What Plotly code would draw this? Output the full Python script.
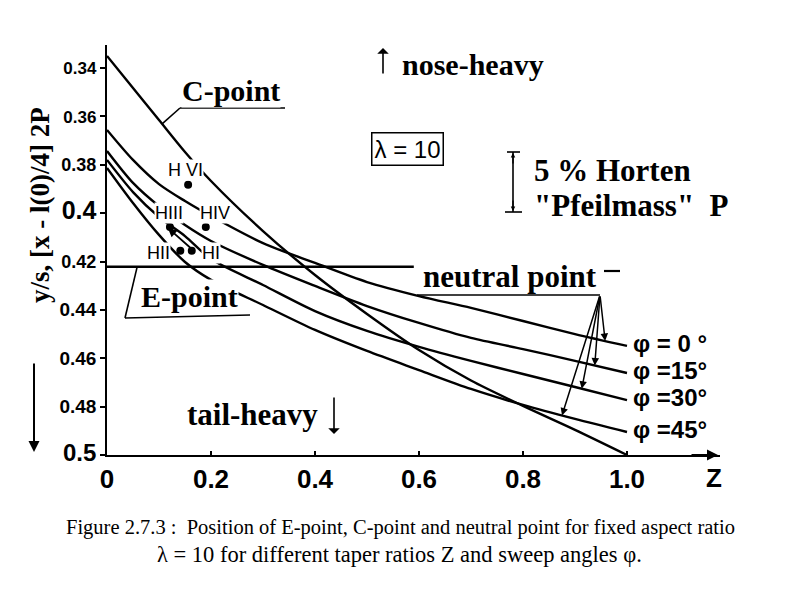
import numpy as np
import plotly.graph_objects as go

# ---------------- data ----------------
Z = [0, 0.05, 0.1, 0.15, 0.2, 0.3, 0.4, 0.5, 0.6, 0.7, 0.8, 0.9, 1.0]
c_point = [0.3350, 0.3483, 0.3615, 0.3747, 0.3867, 0.4074, 0.4256, 0.4417,
           0.4566, 0.4692, 0.4797, 0.4896, 0.5000]
np_phi0 = [0.3656, 0.3780, 0.3880, 0.3950, 0.4012, 0.4124, 0.4206, 0.4285,
           0.4343, 0.4392, 0.4446, 0.4500, 0.4549]
np_phi15 = [0.3743, 0.3875, 0.3971, 0.4049, 0.4115, 0.4214, 0.4301, 0.4384,
            0.4454, 0.4516, 0.4562, 0.4611, 0.4661]
np_phi30 = [0.3780, 0.3913, 0.4016, 0.4095, 0.4190, 0.4297, 0.4405, 0.4487,
            0.4553, 0.4611, 0.4665, 0.4719, 0.4773]
np_phi45 = [0.3813, 0.3958, 0.4090, 0.4202, 0.4276, 0.4380, 0.4483, 0.4570,
            0.4649, 0.4727, 0.4793, 0.4851, 0.4905]
e_z = [0.0, 0.59]
e_point = [0.4222, 0.4222]

horten_names = ["H VI", "HIII", "HIV", "HII", "HI"]
horten_z = [0.156, 0.121, 0.190, 0.141, 0.163]
horten_y = [0.3883, 0.4057, 0.4057, 0.4156, 0.4156]

phi_labels = ["φ = 0 °", "φ =15°", "φ =30°", "φ =45°"]
x_ticks = [0, 0.2, 0.4, 0.6, 0.8, 1.0]
x_ticktext = ["0", "0.2", "0.4", "0.6", "0.8", "1.0"]
y_ticks = [0.34, 0.36, 0.38, 0.40, 0.42, 0.44, 0.46, 0.48, 0.50]
y_ticktext = ["0.34", "0.36", "0.38", "0.4", "0.42", "0.44", "0.46", "0.48", "0.5"]
y_ticksize = [17, 17, 18, 25, 18, 19, 19, 19, 24]

# ---------------- layout helpers (pixel -> axis / paper) ----------------
L, R, T, B = 107, 720, 45, 455
W, H = 800, 593
PXU = 520.0                       # pixels per unit Z
YPX = 0.16 / 387.0                # y units per pixel


def zx(px):
    return (px - L) / PXU


def yy(py):
    return 0.34 + (py - 68) * YPX


def paper_x(px):
    return (px - L) / (R - L)


def paper_y(py):
    return (B - py) / (B - T)


SERIF = "Liberation Serif, Times New Roman, serif"
SANS = "Liberation Sans, Arial, sans-serif"

fig = go.Figure()
line_style = dict(color="black", width=2.4, shape="spline", smoothing=0.8)
for name, ys in [("C-point", c_point), ("φ=0°", np_phi0), ("φ=15°", np_phi15),
                 ("φ=30°", np_phi30), ("φ=45°", np_phi45)]:
    fig.add_trace(go.Scatter(x=Z, y=ys, mode="lines", name=name, line=line_style,
                             hoverinfo="skip"))
fig.add_trace(go.Scatter(x=e_z, y=e_point, mode="lines", name="E-point",
                         line=dict(color="black", width=2.4)))
fig.add_trace(go.Scatter(x=horten_z, y=horten_y, mode="markers", name="Horten",
                         marker=dict(color="black", size=8)))

ann = []
shapes = []


def text(px, py, s, size, family=SERIF, bold=True, xanchor="center", bg=None,
         ref="data", angle=0):
    d = dict(text=("<b>%s</b>" % s) if bold else s, showarrow=False,
             font=dict(family=family, size=size, color="black"),
             xanchor=xanchor, yanchor="middle", textangle=angle)
    if ref == "data":
        d.update(x=zx(px), y=yy(py), xref="x", yref="y")
    else:
        d.update(x=paper_x(px), y=paper_y(py), xref="paper", yref="paper")
    if bg:
        d.update(bgcolor=bg, borderpad=0)
    ann.append(d)


def seg(x0, y0, x1, y1, w=1.6):
    shapes.append(dict(type="line", xref="x", yref="y", x0=x0, y0=y0, x1=x1, y1=y1,
                       line=dict(color="black", width=w)))


def arrow(x, y, ax, ay, size=1.0, w=1.5, head=2):
    ann.append(dict(x=x, y=y, ax=ax, ay=ay, text="", showarrow=True, arrowhead=head,
                    arrowsize=size, arrowwidth=w, arrowcolor="black",
                    xref="x", yref="y", axref="x", ayref="y"))


def parrow(tip_px, tip_py, tail_px, tail_py, size=1.0, w=1.5, head=2):
    """arrow positioned in page pixels (may sit outside the plot area)"""
    ann.append(dict(x=paper_x(tip_px), y=paper_y(tip_py), xref="paper", yref="paper",
                    ax=tail_px - tip_px, ay=tail_py - tip_py, axref="pixel", ayref="pixel",
                    text="", showarrow=True, arrowhead=head, arrowsize=size,
                    arrowwidth=w, arrowcolor="black"))


# C-point label with underline and leader to the curve
text(231, 90, "C-point", 30, bg="white")
seg(zx(180), yy(108), zx(285), yy(108))
zc = 0.106
seg(zx(180), yy(108), zc, float(np.interp(zc, Z, c_point)))

# E-point label with bracket pointing to the E-point line
text(189, 296, "E-point", 30, bg="white")
seg(zx(250), yy(315), zx(125), yy(318))
seg(zx(125), yy(318), 0.058, e_point[0])

# Horten aircraft labels
label_px = [(185, 170), (169, 213), (215, 213), (158, 253), (211, 253)]
for (px, py), nm in zip(label_px, horten_names):
    text(px, py, nm, 18, family=SANS, bold=False, bg="white")
# arrow from H I towards H III
arrow(horten_z[1] - 0.004, horten_y[1] + 0.0004, horten_z[4] + 0.004, horten_y[4], size=1.0, w=1.8)

# lambda box
ann.append(dict(x=zx(407), y=yy(149), xref="x", yref="y", text="λ = 10", showarrow=False,
                font=dict(family=SANS, size=24, color="black"), bordercolor="black",
                borderwidth=1.5, borderpad=2, bgcolor="white"))

# nose-heavy / tail-heavy
text(400, 64, "nose-heavy", 30, xanchor="left", ref="paper")
parrow(383, 48, 383, 75, size=1.2, w=1.6, head=1)
text(252, 414, "tail-heavy", 31)
arrow(zx(334), yy(434), zx(334), yy(396), size=1.2, w=1.6, head=1)

# 5 % Horten "Pfeilmass" P scale bar
xb = zx(513)
seg(xb, yy(152), xb, yy(212), w=1.6)
seg(zx(507), yy(152), zx(520), yy(152), w=1.6)
seg(zx(505), yy(212), zx(522), yy(212), w=1.6)
arrow(xb, yy(153), xb, yy(165), size=0.7, w=1.3)
arrow(xb, yy(211), xb, yy(199), size=0.7, w=1.3)
text(532, 170, "5 % Horten", 31, xanchor="left", ref="paper")
text(532, 205, "\"Pfeilmass\"  P", 31, xanchor="left", ref="paper")

# neutral point label with fan of arrows to the four curves
text(510, 276, "neutral point", 31)
seg(zx(417), yy(295), zx(600), yy(295))
seg(zx(604), yy(271), zx(620), yy(271), w=2.2)
apex = (zx(600), yy(295))
tips = [0.958, 0.938, 0.913, 0.875]
for zt, ys in zip(tips, [np_phi0, np_phi15, np_phi30, np_phi45]):
    arrow(zt, float(np.interp(zt, Z, ys)), apex[0], apex[1], size=1.0, w=1.5)

# sweep angle labels at the curve ends
for lab, ys in zip(phi_labels, [np_phi0, np_phi15, np_phi30, np_phi45]):
    ann.append(dict(x=zx(631), y=ys[-1] - 0.0012, xref="x", yref="y", text="<b>%s</b>" % lab,
                    showarrow=False, xanchor="left", yanchor="middle",
                    font=dict(family=SANS, size=24, color="black")))

# axis-end items
text(714, 478, "Z", 26, family=SANS, ref="paper")
parrow(718, B, 690, B, size=1.1, w=2, head=2)

# y-axis title and downward arrow
text(40, 205, "y/s, [x - l(0)/4] 2P", 27, angle=-90, ref="paper")
parrow(34, 452, 34, 362, size=1.1, w=2, head=2)

# caption
text(64, 527, "Figure 2.7.3 :  Position of E-point, C-point and neutral point for fixed aspect ratio",
     20.5, bold=False, xanchor="left", ref="paper")
text(155, 554, "λ = 10 for different taper ratios Z and sweep angles φ.",
     22.5, bold=False, xanchor="left", ref="paper")

fig.update_layout(
    width=W, height=H,
    margin=dict(l=L, r=W - R, t=T, b=H - B, pad=0),
    paper_bgcolor="white", plot_bgcolor="white",
    showlegend=False,
    annotations=ann, shapes=shapes,
    xaxis=dict(range=[0, (R - L) / PXU], showgrid=False, zeroline=False,
               showline=True, linecolor="black", linewidth=2,
               ticks="inside", ticklen=4, tickwidth=1.5, tickcolor="black",
               tickvals=x_ticks, ticktext=["<b>%s</b>" % t for t in x_ticktext],
               tickfont=dict(family=SANS, size=26, color="black"),
               ticklabelstandoff=0),
    yaxis=dict(range=[0.5, yy(T)], showgrid=False, zeroline=False,
               showline=True, linecolor="black", linewidth=2,
               ticks="outside", ticklen=5, tickwidth=1.5, tickcolor="black",
               tickvals=y_ticks,
               ticktext=["<span style='font-size:%dpx'><b>%s</b></span>" % (s, t)
                         for t, s in zip(y_ticktext, y_ticksize)],
               tickfont=dict(family=SANS, size=18, color="black")),
)

fig.write_html("out.html")
